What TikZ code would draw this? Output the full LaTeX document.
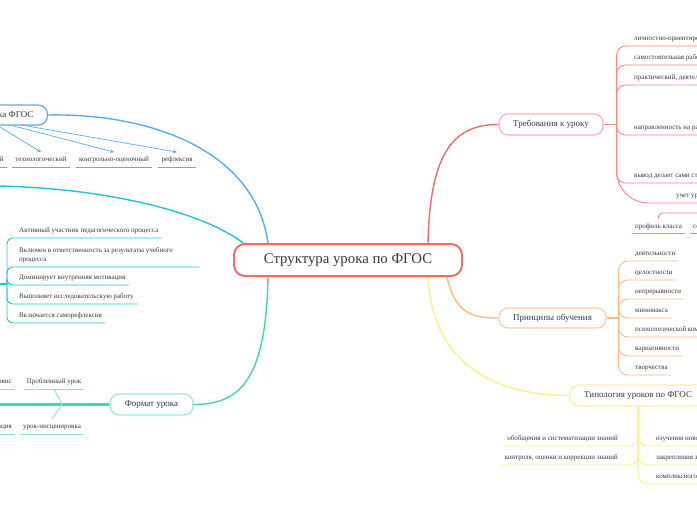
\documentclass[tikz,border=0pt]{standalone}
\usepackage{fontspec}
\setmainfont{Liberation Serif}
\usepackage{xcolor}
\definecolor{textgray}{HTML}{3A3A3A}
\definecolor{rootred}{HTML}{F36B6B}
\definecolor{reqred}{HTML}{FF8585}
\definecolor{reqpink}{HTML}{FFB3B3}
\definecolor{prinorange}{HTML}{FFBA8A}
\definecolor{prinpeach}{HTML}{FFCCA8}
\definecolor{typyellow}{HTML}{FFEF85}
\definecolor{typcream}{HTML}{FFF1A3}
\definecolor{compblue}{HTML}{5AAEEE}
\definecolor{pupilteal}{HTML}{1DC8D3}
\definecolor{formgreen}{HTML}{41D9A6}
\definecolor{formmint}{HTML}{9FEBD2}
\usepackage{tikz}
\usetikzlibrary{arrows.meta}

\begin{document}
\begin{tikzpicture}[x=1pt, y=-1pt,
    root/.style={draw=rootred, line width=2pt, rounded corners=11pt, fill=white,
      minimum width=228pt, minimum height=32pt, text=textgray,
      font=\fontsize{14.8}{17}\selectfont},
    topic/.style={line width=1.2pt, rounded corners=9pt, fill=white,
      minimum height=21pt, inner xsep=13pt, text=textgray,
      font=\fontsize{9}{11}\selectfont},
    leafbase/.style={inner xsep=3pt, inner ysep=4pt, text=textgray,
      font=\fontsize{7}{9}\selectfont},
    leaf/.style={leafbase, text height=5pt, text depth=1.5pt},
    link/.style={line width=1.4pt},
    twig/.style={line width=0.9pt, rounded corners=9pt}]

    % Page and white paper
    \useasboundingbox (0,0) rectangle (697,520);
    \clip (0,0) rectangle (697,520);
    \fill[white] (0,0) rectangle (697,520);

    % Central topic
    \node[root] (central) at (348,260) {Структура урока по ФГОС};

    % Main topics
    \node[topic, draw=reqpink, minimum width=104pt] (req) at (551,124.5) {Требования к уроку};
    \node[topic, draw=prinpeach, minimum width=107pt, minimum height=20pt] (prin) at (552.5,318) {Принципы обучения};
    \node[topic, draw=typcream, minimum width=137pt, anchor=west] (typ) at (569,395.5) {Типология уроков по ФГОС};
    \node[topic, draw=formmint, minimum width=83pt] (form) at (151.5,404.5) {Формат урока};

    % Off-page ends on the left
    \coordinate (pupil-in) at (-2,186);
    \coordinate (pupil-feed) at (-2,284);
    \coordinate (pupil-hub) at (7,284);
    \coordinate (form-end) at (-2,404.5);

    % Connectors from the central topic
    \draw[link, rootred] ([xshift=80pt]central.north) .. controls (430,150) and (455,124.5) .. (req.west);
    \draw[link, prinorange] ([xshift=99pt]central.south) .. controls (455,312) and (470,318) .. (prin.west);
    \draw[link, typyellow] ([xshift=80pt]central.south) .. controls (432,360) and (490,395.5) .. (typ.west);
    \draw[link, formgreen] ([xshift=-80pt]central.south) .. controls (266,380) and (240,404.5) .. (form.east);
    \draw[link, pupilteal] ([xshift=-105pt]central.north) .. controls (200,210) and (100,188) .. (pupil-in);

    % Requirements
    \coordinate (req-hub) at ([xshift=13pt]req.east);
    \draw[link, reqred] (req.east) -- (req-hub);
    \foreach \name/\y/\txt in {req-a/46/{личностно-ориентированный подход},
        req-b/65/{самостоятельная работа учащихся},
        req-c/85/{практический, деятельностный характер},
        req-d/135/{направленность на развитие},
        req-e/183/{вывод делает сами студенты}}{
        \node[leaf, anchor=south west] (\name) at (631,\y) {\txt};
        \draw[twig, reqred] (req-hub) |- (\name.south east);
    }
    \node[leaf, anchor=south west] (req-f) at (673,203) {учет уровня подготовки учащихся};
    \draw[twig, reqred, rounded corners=32pt] (req-hub) |- (req-f.south east);
    \node[leaf, anchor=base] (req-g) at (658.5,228) {профиль класса};
    \node[leaf, anchor=base west] (req-h) at (690,228) {состав класса};
    \coordinate (req-f-out) at (705,213);
    \draw[twig, reqred, rounded corners=4pt] (req-g.north) |- (req-f-out);
    \foreach \name in {req-g, req-h}
        \draw[reqred, line width=0.9pt] (\name.south west) -- (\name.south east);

    % Principles
    \coordinate (prin-hub) at ([xshift=12pt]prin.east);
    \draw[link, prinorange] (prin.east) -- (prin-hub);
    \foreach \txt [count=\i] in {деятельности, целостности, непрерывности, минимакса,
        психологической комфортности, вариативности, творчества}{
        \node[leaf, anchor=south west] (prin-\i) at (632,242+19*\i) {\txt};
        \draw[twig, prinorange] (prin-hub) |- (prin-\i.south east);
    }

    % Typology
    \foreach \name/\y/\txt in {typ-r1/446/{изучения нового материала},
        typ-r2/465/{закрепления знаний},
        typ-r3/484/{комплексного применения знаний}}{
        \node[leaf, anchor=south west] (\name) at (653,\y) {\txt};
        \draw[twig, typyellow] (typ.south) |- (\name.south east);
    }
    \foreach \name/\y/\txt in {typ-l1/446/{обобщения и систематизации знаний},
        typ-l2/465/{контроля, оценки и коррекции знаний}}{
        \node[leaf, anchor=south east] (\name) at (621,\y) {\txt};
        \draw[twig, typyellow] (typ.south) |- (\name.south west);
    }

    % Pupil
    \draw[link, pupilteal] (pupil-feed) -- (pupil-hub);
    \foreach \name/\y/\txt in {pupil-a/238/{Активный участник педагогического процесса},
        pupil-c/285/{Доминирует внутренняя мотивация},
        pupil-d/304/{Выполняет исследовательскую работу},
        pupil-e/323/{Включается саморефлексия}}{
        \node[leaf, anchor=south west] (\name) at (16,\y) {\txt};
        \draw[twig, pupilteal, rounded corners=6pt] (pupil-hub) |- (\name.south east);
    }
    \node[leafbase, anchor=south west, align=flush left, text width=177pt] (pupil-b) at (16,267)
        {Включен в ответственность за результаты учебного\\процесса};
    \draw[twig, pupilteal, rounded corners=6pt] (pupil-hub) |- (pupil-b.south east);

    % Lesson components
    \coordinate (comp-root) at (-13,119);
    \foreach \name/\cx/\txt in {comp-a/-21/содержательный, comp-b/41/технологический,
        comp-c/114/контрольно-оценочный, comp-d/177/рефлексия}{
        \node[leaf, anchor=south] (\name) at (\cx,167) {\txt};
        \draw[compblue, line width=0.8pt] (\name.south west) -- (\name.south east);
        \draw[compblue, line width=0.7pt, -{Stealth[length=4pt, width=3.5pt]}] (comp-root) -- (\name.north);
    }
    \node[topic, draw=compblue, minimum height=20pt, inner xsep=14pt, anchor=east] (comp) at (48,115)
        {Компоненты урока ФГОС};
    \draw[link, compblue] ([xshift=-80pt]central.north) .. controls (255,150) and (150,113) .. (comp.east);

    % Lesson format
    \draw[formgreen, line width=2.5pt] (form.west) -- (form-end);
    \coordinate (form-fork) at (62,404.5);
    \coordinate (form-fork-b) at (-10,404.5);
    \node[leaf, anchor=south] (form-a) at (54,389) {Проблемный урок};
    \node[leaf, anchor=south] (form-b) at (52,434) {урок-инсценировка};
    \node[leaf, anchor=south east] (form-c) at (15,389) {урок-сервис};
    \node[leaf, anchor=south east] (form-d) at (15,434) {урок-презентация};
    \foreach \name in {form-a, form-b, form-c, form-d}
        \draw[formmint!80!formgreen, line width=0.9pt] (\name.south west) -- (\name.south east);
    \draw[formmint!80!formgreen, line width=0.9pt] (form-fork) -- (form-a.south);
    \draw[formmint!80!formgreen, line width=0.9pt] (form-fork) -- (form-b.north);
    \draw[formmint!80!formgreen, line width=0.9pt] (form-fork-b) -- (form-c.south);
    \draw[formmint!80!formgreen, line width=0.9pt] (form-fork-b) -- (form-d.north);
\end{tikzpicture}
\end{document}
